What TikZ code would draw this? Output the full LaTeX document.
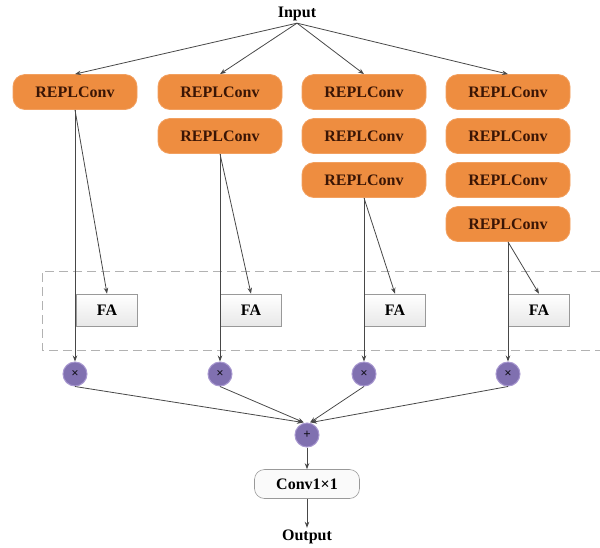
\documentclass[tikz,border=0pt]{standalone}
\usepackage{fontspec}
\setmainfont{Liberation Serif}
\usetikzlibrary{arrows.meta,shapes.misc}
\definecolor{replfill}{HTML}{EE8D40}
\definecolor{repledge}{HTML}{F2A060}
\definecolor{repltext}{HTML}{3A1505}
\definecolor{opfill}{HTML}{8070B0}
\definecolor{opedge}{HTML}{A898D0}
\definecolor{wire}{HTML}{484848}
\tikzset{
  repl/.style={draw=repledge, line width=0.8pt, fill=replfill, rounded corners=12pt,
    minimum width=124pt, minimum height=35pt, inner sep=0pt,
    font=\fontsize{16}{18}\selectfont\bfseries, text=repltext},
  fabox/.style={draw=gray!80, line width=0.6pt, top color=white, bottom color=gray!18,
    minimum width=61pt, minimum height=32pt, inner sep=0pt,
    font=\fontsize{16}{18}\selectfont\bfseries},
  opnode/.style={circle, draw=opedge, line width=1pt, fill=opfill, minimum size=24pt,
    inner sep=0pt, font=\fontsize{13}{13}\selectfont\bfseries, text=black!85!opfill},
  convbox/.style={draw=gray!80, line width=0.6pt, fill=gray!4, rounded corners=10pt,
    minimum width=105pt, minimum height=29pt, inner sep=0pt,
    font=\fontsize{16}{18}\selectfont\bfseries},
  label/.style={font=\fontsize{16}{18}\selectfont\bfseries, inner sep=2pt},
  wireto/.style={draw=wire, line width=0.8pt, -{Stealth[length=6pt,width=4.5pt]}},
  group/.style={draw=gray!60, line width=0.8pt, dash pattern=on 9pt off 5pt}
}
\begin{document}
\begin{tikzpicture}[x=1pt, y=-1pt]
\useasboundingbox (0,0) rectangle (600,547);

% dashed frame around the FA modules
\draw[group] (600,271) -- (42,271) -- (42,350) -- (600,350);

\node[label] (in) at (297,14) {Input};

% branch 1
\node[repl] (r11) at (75,92) {REPLConv};
% branch 2
\node[repl] (r21) at (220,92) {REPLConv};
\node[repl] (r22) at (220,136) {REPLConv};
% branch 3
\node[repl] (r31) at (364,92) {REPLConv};
\node[repl] (r32) at (364,136) {REPLConv};
\node[repl] (r33) at (364,180) {REPLConv};
% branch 4
\node[repl] (r41) at (508,92) {REPLConv};
\node[repl] (r42) at (508,136) {REPLConv};
\node[repl] (r43) at (508,180) {REPLConv};
\node[repl] (r44) at (508,224) {REPLConv};

% attention modules
\node[fabox] (fa1) at (107,310) {FA};
\node[fabox] (fa2) at (251,310) {FA};
\node[fabox] (fa3) at (395,310) {FA};
\node[fabox] (fa4) at (539,310) {FA};

% element-wise products
\node[opnode] (m1) at (75,374) {×};
\node[opnode] (m2) at (220,374) {×};
\node[opnode] (m3) at (364,374) {×};
\node[opnode] (m4) at (508,374) {×};

% fusion
\node[opnode] (sum) at (307,435) {+};
\node[convbox] (conv) at (307,484) {Conv1×1};
\node[label] (out) at (307,537) {Output};

% input fan-out
\draw[wireto] (in.south) -- (r11.north);
\draw[wireto] (in.south) -- (r21.north);
\draw[wireto] (in.south) -- (r31.north);
\draw[wireto] (in.south) -- (r41.north);

% branch tails: identity path and attention path
\foreach \r/\f/\m in {r11/fa1/m1, r22/fa2/m2, r33/fa3/m3, r44/fa4/m4}{
  \draw[wireto] (\r.south) -- (\m.north);
  \draw[wireto] (\r.south) -- (\f.north);
}

% products merged by addition
\draw[wireto] (m1.south) -- ([xshift=-4pt]sum.north);
\draw[wireto] (m2.south) -- ([xshift=-3pt]sum.north);
\draw[wireto] (m3.south) -- ([xshift=3pt]sum.north);
\draw[wireto] (m4.south) -- ([xshift=4pt]sum.north);

\draw[wireto] (sum.south) -- (conv.north);
\draw[wireto] (conv.south) -- (out.north);
\end{tikzpicture}
\end{document}
